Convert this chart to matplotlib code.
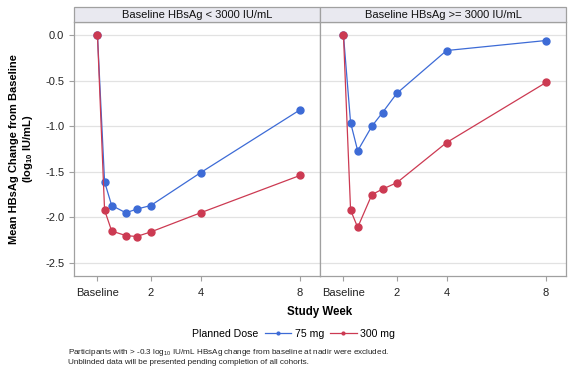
import numpy as np
import matplotlib
matplotlib.use('Agg')
import matplotlib.pyplot as plt
from matplotlib.patches import Rectangle
from matplotlib.lines import Line2D

plt.rcParams.update({
    'font.family': ['Liberation Sans', 'DejaVu Sans'],
    'font.size': 8,
    'mathtext.fontset': 'custom',
    'mathtext.rm': 'Liberation Sans',
    'mathtext.it': 'Liberation Sans',
    'mathtext.bf': 'Liberation Sans:bold',
    'mathtext.default': 'regular',
})

# study day of each visit (baseline plotted at day -1)
days = [-1, 1, 3, 7, 10, 14, 28, 56]
tick_days = [-1, 14, 28, 56]
tick_labels = ['Baseline', '2', '4', '8']

panel_titles = ['Baseline HBsAg < 3000 IU/mL', 'Baseline HBsAg >= 3000 IU/mL']

low_75 = [0.0, -1.61, -1.87, -1.95, -1.91, -1.87, -1.51, -0.82]
low_300 = [0.0, -1.92, -2.15, -2.20, -2.21, -2.16, -1.95, -1.54]
high_75 = [0.0, -0.96, -1.27, -1.00, -0.85, -0.64, -0.17, -0.06]
high_300 = [0.0, -1.92, -2.11, -1.75, -1.69, -1.62, -1.18, -0.52]

dose_labels = ['75 mg', '300 mg']
blue = '#3d6bd6'
red = '#cc3a52'
frame = '#a0a0a0'

fig = plt.figure(figsize=(5.74, 3.72), dpi=100)
W, H = 574, 372
x0, xm, x1 = 74, 320, 566
ytop, ybot = 22, 275.7
hdr = 14.7

axes = []
for i, (l, r) in enumerate([(x0, xm), (xm, x1)]):
    ax = fig.add_axes([l / W, 1 - ybot / H, (r - l) / W, (ybot - ytop) / H])
    axes.append(ax)

series = [(low_75, low_300), (high_75, high_300)]
for i, ax in enumerate(axes):
    s75, s300 = series[i]
    ax.plot(days, s75, '-o', color=blue, lw=0.9, ms=5.0, zorder=3)
    ax.plot(days, s300, '-o', color=red, lw=0.9, ms=5.0, zorder=3)
    ax.set_xlim(-7.6, 61.6)
    ax.set_ylim(-2.64, 0.143)
    ax.set_yticks([0.0, -0.5, -1.0, -1.5, -2.0, -2.5])
    ax.set_xticks(tick_days)
    ax.set_xticklabels(tick_labels)
    ax.grid(axis='y', color='#e2e2e2', lw=0.9, zorder=0)
    ax.set_axisbelow(True)
    for sp in ax.spines.values():
        sp.set_color(frame)
        sp.set_linewidth(0.9)
    ax.tick_params(axis='both', color=frame, length=3.5, width=0.8,
                   labelsize=8, labelcolor='#222222', pad=3.5)
    ax.tick_params(axis='x', pad=5.5)
    if i == 0:
        ax.yaxis.set_major_formatter(matplotlib.ticker.FormatStrFormatter('%.1f'))
    else:
        ax.tick_params(axis='y', left=False, labelleft=False)
    # panel header
    h = hdr / (ybot - ytop)
    ax.add_patch(Rectangle((0, 1), 1, h, transform=ax.transAxes, clip_on=False,
                           facecolor='#e9e9f0', edgecolor=frame, lw=0.9, zorder=5))
    ax.text(0.5, 1 + h / 2, panel_titles[i], transform=ax.transAxes,
            ha='center', va='center', fontsize=8, color='#111111', zorder=6)

# y label
fig.text(22 / W, 1 - (ytop + ybot) / 2 / H,
         'Mean HBsAg Change from Baseline\n(log$_{10}$ IU/mL)',
         rotation=90, ha='center', va='center', fontsize=8, fontweight='bold',
         linespacing=1.15)

# x label
fig.text(xm / W, 1 - 312 / H, 'Study Week', ha='center', va='center',
         fontsize=8.3, fontweight='bold')

# legend
fig.text(192 / W, 1 - 334 / H, 'Planned Dose', ha='left', va='center', fontsize=7.6)
handles = [Line2D([0], [0], color=c, lw=0.9, marker='o', ms=2) for c in (blue, red)]
fig.legend(handles, dose_labels, loc='center left', bbox_to_anchor=(265 / W, 1 - 334 / H),
           ncol=2, frameon=False, fontsize=7.6, handlelength=2.5, handletextpad=0.3,
           columnspacing=0.6, borderaxespad=0, borderpad=0)

# footnote
fig.text(68 / W, 1 - 352 / H,
         'Participants with > -0.3 log$_{10}$ IU/mL HBsAg change from baseline at nadir were excluded.',
         ha='left', va='center', fontsize=5.85, color='#222222')
fig.text(68 / W, 1 - 362.5 / H,
         'Unblinded data will be presented pending completion of all cohorts.',
         ha='left', va='center', fontsize=5.85, color='#222222')

fig.savefig('out.png', dpi=100)
